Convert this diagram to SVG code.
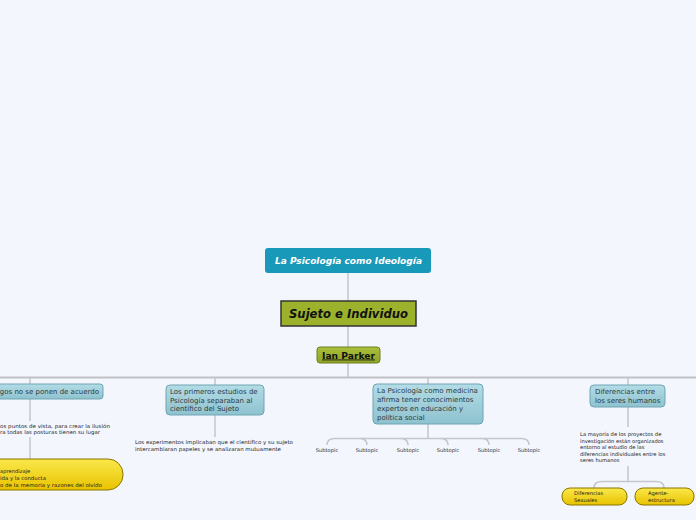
<svg xmlns="http://www.w3.org/2000/svg" width="696" height="520" viewBox="0 0 696 520">
<defs>
<linearGradient id="teal" x1="0" y1="0" x2="0" y2="1"><stop offset="0" stop-color="#b3dce6"/><stop offset="1" stop-color="#8ec2cf"/></linearGradient>
<linearGradient id="yel" x1="0" y1="0" x2="0" y2="1"><stop offset="0" stop-color="#fae84a"/><stop offset="1" stop-color="#e8c300"/></linearGradient>
<linearGradient id="grn" x1="0" y1="0" x2="0" y2="1"><stop offset="0" stop-color="#aabf3a"/><stop offset="1" stop-color="#8ea426"/></linearGradient>
</defs>
<style>
text{font-family:"DejaVu Sans",Verdana,sans-serif;}
.conn{fill:none;stroke:#c4c6cc;stroke-width:1.5;}
.main{fill:none;stroke:#bfc1c6;stroke-width:2;}
.topic{fill:url(#teal);stroke:#6fa5b3;stroke-width:1;}
.yel{fill:url(#yel);stroke:#8a7600;stroke-width:1;}
.t7{font-size:7px;fill:#2d3a40;}
.t5{font-size:5.2px;fill:#222;}
.sub{font-size:5.2px;fill:#333;text-anchor:middle;}
</style>
<rect width="696" height="520" fill="#f4f6fd"/>
<g id="connectors">
<path class="conn" d="M348 273V301M348 326V347M348 363V377"/>
<path class="main" d="M0 377.5H696"/>
<path class="conn" d="M30 378V384M30 399V421M30 437V459"/>
<path class="conn" d="M215 378V385M215 415V437"/>
<path class="conn" d="M428 378V384M428 424V438"/>
<path class="conn" d="M428 438.5H335Q327 438.5 327 445M428 438.5H359Q367 438.5 367 445M428 438.5H400Q408 438.5 408 445M428 438.5H440Q448 438.5 448 445M428 438.5H481Q489 438.5 489 445M428 438.5H521Q529 438.5 529 445"/>
<path class="conn" d="M628 378V385M628 407V427M628 466V481"/>
<path class="conn" d="M628 481.5H602Q594 481.5 594 488M628 481.5H656Q664 481.5 664 488"/>
</g>
<g id="ideologia">
<rect x="265" y="248" width="166" height="25" rx="3" fill="#1899b9"/>
<text x="275" y="264" font-size="8.8" font-weight="bold" font-style="italic" fill="#fff" textLength="147" lengthAdjust="spacingAndGlyphs">La Psicología como Ideología</text>
</g>
<g id="central">
<rect x="281" y="301" width="135" height="25" fill="#9cb12c" stroke="#333" stroke-width="1.5"/>
<text x="289" y="318" font-size="11.5" font-weight="bold" font-style="italic" fill="#111" textLength="119" lengthAdjust="spacingAndGlyphs">Sujeto e Individuo</text>
</g>
<g id="ianparker">
<rect x="317" y="347" width="63" height="16" rx="3" fill="url(#grn)" stroke="#6f7f20" stroke-width="1"/>
<text x="322" y="358.5" font-size="8.5" font-weight="bold" fill="#111" text-decoration="underline" textLength="53" lengthAdjust="spacingAndGlyphs">Ian Parker</text>
</g>
<g id="branch1">
<rect class="topic" x="-10" y="384" width="113" height="15" rx="3"/>
<text class="t7" x="99" y="394" text-anchor="end">gos no se ponen de acuerdo</text>
</g>
<g id="branch1-text">
<text class="t5" x="0" y="428" textLength="110" lengthAdjust="spacingAndGlyphs">os puntos de vista, para crear la ilusión</text>
<text class="t5" x="0" y="434" textLength="100" lengthAdjust="spacingAndGlyphs">ra todas las posturas tienen su lugar</text>
</g>
<g id="branch1-yellow">
<rect class="yel" x="-20" y="459" width="143" height="31" rx="15"/>
<text class="t5" x="0" y="473">aprendizaje</text>
<text class="t5" x="0" y="480" textLength="46" lengthAdjust="spacingAndGlyphs">ida y la conducta</text>
<text class="t5" x="0" y="487" textLength="102" lengthAdjust="spacingAndGlyphs">o de la memoria y razones del olvido</text>
</g>
<g id="branch2">
<rect class="topic" x="166" y="385" width="98" height="30" rx="4"/>
<text class="t7" x="170" y="394">Los primeros estudios de</text>
<text class="t7" x="170" y="402.5">Psicología separaban al</text>
<text class="t7" x="170" y="411">científico del Sujeto</text>
</g>
<g id="branch2-text">
<text class="t5" x="135" y="444" textLength="158" lengthAdjust="spacingAndGlyphs">Los experimentos implicaban que el científico y su sujeto</text>
<text class="t5" x="135" y="451" textLength="146" lengthAdjust="spacingAndGlyphs">intercambiaran papeles y se analizaran mutuamente</text>
</g>
<g id="branch3">
<rect class="topic" x="373" y="384" width="110" height="40" rx="4"/>
<text class="t7" x="377" y="393">La Psicología como medicina</text>
<text class="t7" x="377" y="402">afirma tener conocimientos</text>
<text class="t7" x="377" y="411">expertos en educación y</text>
<text class="t7" x="377" y="420">política social</text>
</g>
<g id="subtopics">
<text class="sub" x="327" y="452">Subtopic</text>
<text class="sub" x="367" y="452">Subtopic</text>
<text class="sub" x="408" y="452">Subtopic</text>
<text class="sub" x="448" y="452">Subtopic</text>
<text class="sub" x="489" y="452">Subtopic</text>
<text class="sub" x="529" y="452">Subtopic</text>
</g>
<g id="branch4">
<rect class="topic" x="590" y="385" width="75" height="22" rx="4"/>
<text class="t7" x="595" y="394">Diferencias entre</text>
<text class="t7" x="595" y="403">los seres humanos</text>
</g>
<g id="branch4-text">
<text class="t5" x="580" y="436">La mayoría de los proyectos de</text>
<text class="t5" x="580" y="442.5">investigación están organizados</text>
<text class="t5" x="580" y="449">entorno al estudio de las</text>
<text class="t5" x="580" y="455.5">diferencias individuales entre los</text>
<text class="t5" x="580" y="462">seres humanos</text>
</g>
<g id="sexuales">
<rect class="yel" x="562" y="488" width="65" height="17" rx="8"/>
<text class="t5" x="574" y="495">Diferencias</text>
<text class="t5" x="574" y="502">Sexuales</text>
</g>
<g id="agente">
<rect class="yel" x="635" y="488" width="59" height="17" rx="8"/>
<text class="t5" x="648" y="495">Agente-</text>
<text class="t5" x="648" y="502">estructura</text>
</g>
</svg>
